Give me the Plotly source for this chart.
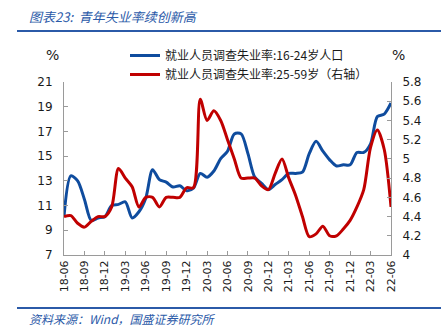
import plotly.graph_objects as go

months = ["18-06","18-07","18-08","18-09","18-10","18-11","18-12",
          "19-01","19-02","19-03","19-04","19-05","19-06","19-07","19-08","19-09","19-10","19-11","19-12",
          "20-01","20-02","20-03","20-04","20-05","20-06","20-07","20-08","20-09","20-10","20-11","20-12",
          "21-01","21-02","21-03","21-04","21-05","21-06","21-07","21-08","21-09","21-10","21-11","21-12",
          "22-01","22-02","22-03","22-04","22-05","22-06"]

youth_16_24 = [10.1, 13.4, 13.0, 11.5, 9.8, 10.0, 10.1,
               11.0, 11.1, 11.3, 10.0, 10.5, 11.6, 13.9, 13.1, 12.9, 12.5, 12.6, 12.2,
               12.4, 13.6, 13.3, 13.8, 14.8, 15.4, 16.8, 16.8, 15.2, 13.3, 12.8, 12.3,
               12.7, 13.1, 13.6, 13.6, 13.7, 15.2, 16.2, 15.4, 14.7, 14.2, 14.3, 14.3,
               15.3, 15.3, 16.0, 18.2, 18.4, 19.3]

adult_25_59 = [4.40, 4.41, 4.33, 4.29, 4.35, 4.40, 4.40,
               4.50, 4.90, 4.80, 4.71, 4.50, 4.60, 4.60, 4.50, 4.60, 4.60, 4.60, 4.70,
               4.70, 5.62, 5.40, 5.50, 5.40, 5.20, 5.00, 4.80, 4.80, 4.80, 4.72, 4.68,
               4.85, 5.00, 4.80, 4.62, 4.40, 4.19, 4.22, 4.30, 4.20, 4.20, 4.27, 4.36,
               4.50, 4.68, 5.12, 5.30, 5.10, 4.50]

x_ticks = months[::3]

name_blue = "就业人员调查失业率:16-24岁人口"
name_red = "就业人员调查失业率:25-59岁（右轴）"

BLUE = "#0F4C9E"
RED = "#C00000"
AXIS = "#9A9A9A"
TXT = "#1a1a1a"
NAVY = "#2B5AA8"

fig = go.Figure()
fig.add_trace(go.Scatter(x=months, y=youth_16_24, name=name_blue, mode="lines",
                         line=dict(color=BLUE, width=3, shape="spline", smoothing=0.8)))
fig.add_trace(go.Scatter(x=months, y=adult_25_59, name=name_red, mode="lines", yaxis="y2",
                         line=dict(color=RED, width=3, shape="spline", smoothing=0.8)))

L, R, T, B = 64, 57, 82, 78
W, H = 448, 333
pw, ph = W - L - R, H - T - B

def px(x):
    return (x - L) / pw

def py(y):
    return (H - B - y) / ph

fig.update_layout(
    width=W, height=H,
    margin=dict(l=L, r=R, t=T, b=B, pad=0),
    paper_bgcolor="white", plot_bgcolor="white",
    font=dict(family="DejaVu Sans, Verdana, sans-serif", size=12, color=TXT),
    showlegend=True,
    legend=dict(x=px(125), y=py(41), xanchor="left", yanchor="top",
                bgcolor="rgba(0,0,0,0)", itemwidth=30, tracegroupgap=0,
                font=dict(family="Noto Sans CJK SC, sans-serif", size=12, color=TXT)),
    xaxis=dict(type="category", range=[0, len(months) - 1], tickmode="array",
               tickvals=x_ticks, ticktext=x_ticks, tickangle=-90,
               ticks="inside", ticklen=4, tickcolor=AXIS, showline=True, linecolor=AXIS,
               linewidth=1, showgrid=False, zeroline=False,
               tickfont=dict(size=11, color=TXT)),
    yaxis=dict(range=[7, 21], dtick=2, tick0=7, ticks="inside", ticklen=4, tickcolor=AXIS,
               showline=True, linecolor=AXIS, linewidth=1, showgrid=False, zeroline=False,
               ticklabelstandoff=8, tickfont=dict(size=12, color=TXT)),
    yaxis2=dict(range=[4, 5.8], dtick=0.2, tick0=4, overlaying="y", side="right",
                ticks="inside", ticklen=4, tickcolor=AXIS, showline=True, linecolor=AXIS,
                linewidth=1, showgrid=False, zeroline=False, ticklabelstandoff=8,
                tickfont=dict(size=12, color=TXT)),
)

# header / footer
fig.add_annotation(xref="paper", yref="paper", x=px(27), y=py(17), xanchor="left", yanchor="middle",
                   text="<i>图表23:  青年失业率续创新高</i>", showarrow=False,
                   font=dict(family="Noto Sans CJK SC, sans-serif", size=13, color=NAVY))
fig.add_shape(type="line", xref="paper", yref="paper", x0=px(17), x1=px(441), y0=py(31), y1=py(31),
              line=dict(color=NAVY, width=2))
fig.add_shape(type="line", xref="paper", yref="paper", x0=px(17), x1=px(441), y0=py(308), y1=py(308),
              line=dict(color=NAVY, width=2))
fig.add_annotation(xref="paper", yref="paper", x=px(27), y=py(318), xanchor="left", yanchor="middle",
                   text="<i>资料来源：Wind，国盛证券研究所</i>", showarrow=False,
                   font=dict(family="Noto Sans CJK SC, sans-serif", size=12, color=NAVY))
fig.add_annotation(xref="paper", yref="paper", x=px(52), y=py(55), xanchor="center", yanchor="middle",
                   text="%", showarrow=False, font=dict(size=14, color=TXT))
fig.add_annotation(xref="paper", yref="paper", x=px(398), y=py(55), xanchor="center", yanchor="middle",
                   text="%", showarrow=False, font=dict(size=14, color=TXT))

fig.write_html("out.html")
